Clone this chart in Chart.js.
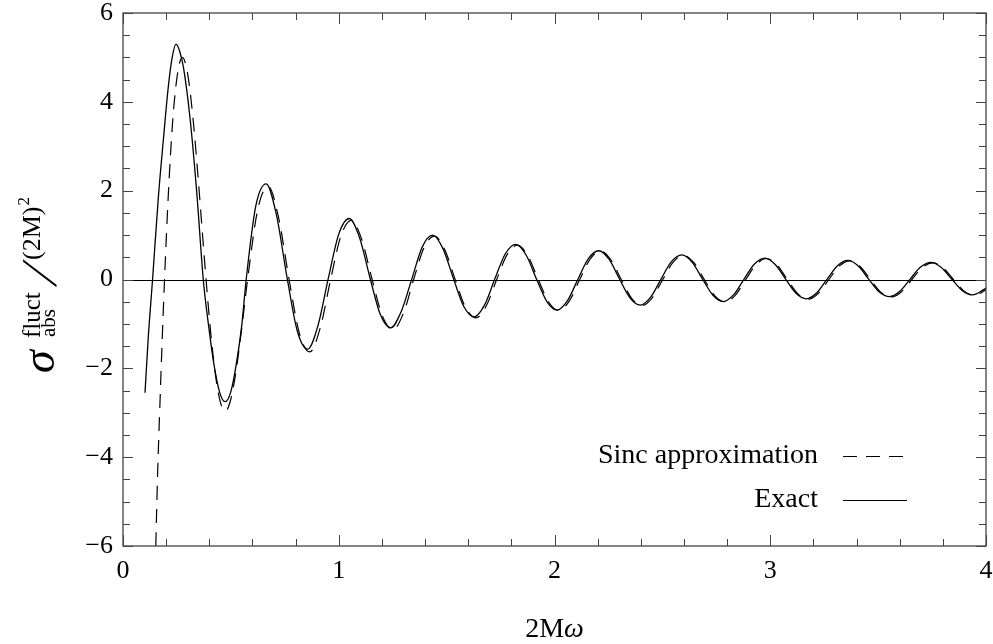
<!DOCTYPE html>
<html><head><meta charset="utf-8">
<script src="https://cdn.jsdelivr.net/npm/chart.js@4.4.1/dist/chart.umd.min.js"></script>
<style>html,body{margin:0;padding:0;background:#fff;}#wrap{width:993px;height:644px;position:relative;}</style>
</head><body><div id="wrap"><canvas id="c"></canvas></div>
<script>
// ---- data ----
const sincX = [0.152,0.160,0.170,0.180,0.1925,0.210,0.230,0.250,0.275,0.300,0.325,0.350,0.370,0.385,0.405,0.425,0.450,0.475,0.500,0.525,0.550,0.5774,
0.6255,0.6736,0.7217,0.7698,0.8179,0.8660,0.9141,0.9623,1.0104,1.0585,1.1066,1.1547,1.2028,1.2509,1.2991,1.3472,1.3953,1.4434,1.4915,1.5396,1.5877,1.6358,1.6840,1.7321,1.7802,1.8283,1.8764,1.9245,1.9726,2.0207,2.0689,2.1170,2.1651,2.2132,2.2613,2.3094,2.3575,2.4056,2.4538,2.5019,2.5500,2.5981,2.6462,2.6943,2.7424,2.7906,2.8387,2.8868,2.9349,2.9830,3.0311,3.0792,3.1273,3.1755,3.2236,3.2717,3.3198,3.3679,3.4160,3.4641,3.5122,3.5604,3.6085,3.6566,3.7047,3.7528,3.8009,3.8490,3.8971,3.9453,3.9934,4.0];
const sincY = [-6.0,-4.44,-2.97,-1.58,0,1.90,3.55,4.54,5.00,4.62,3.60,2.18,0.92,0,-1.12,-2.02,-2.74,-2.96,-2.69,-2.03,-1.11,0,
1.595,2.094,1.382,0,-1.220,-1.629,-1.091,0,0.987,1.333,0.901,0,-0.829,-1.128,-0.768,0,0.715,0.977,0.669,0,-0.628,-0.862,-0.592,0,0.560,0.772,0.532,0,-0.506,-0.698,-0.482,0,0.461,0.637,0.441,0,-0.423,-0.586,-0.407,0,0.391,0.543,0.377,0,-0.364,-0.506,-0.351,0,0.340,0.473,0.329,0,-0.319,-0.444,-0.309,0,0.300,0.419,0.292,0,-0.284,-0.396,-0.276,0,0.269,0.376,0.262,0,-0.256,-0.358,-0.250,-0.221];

const exactX = [0.102,0.1173,0.137,0.164,0.187,0.210,0.228,0.2457,0.262,0.280,0.311,0.342,0.372,0.397,0.4225,0.448,0.473,0.499,0.524,0.550,0.571,
0.6155,0.6636,0.7117,0.7598,0.8079,0.8560,0.9041,0.9523,1.0004,1.0485,1.0966,1.1447,1.1928,1.2409,1.2891,1.3392,1.3873,1.4354,1.4835,1.5316,1.5797,1.6278,1.6760,1.7241,1.7722,1.8203,1.8684,1.9165,1.9646,2.0127,2.0609,2.1090,2.1571,2.2052,2.2533,2.3014,2.3495,2.3976,2.4458,2.4939,2.5420,2.5901,2.6382,2.6863,2.7344,2.7826,2.8307,2.8788,2.9269,2.9750,3.0231,3.0712,3.1193,3.1675,3.2156,3.2637,3.3118,3.3599,3.4080,3.4561,3.5042,3.5524,3.6005,3.6486,3.6967,3.7448,3.7929,3.8410,3.8891,3.9373,3.9854,4.0];
const exactY = [-2.55,-1.29,0,1.86,3.14,4.34,5.0,5.30,5.15,4.78,3.62,1.95,0,-1.05,-1.94,-2.54,-2.75,-2.54,-1.94,-1.05,0,
1.655,2.154,1.442,0.06,-1.160,-1.569,-1.031,0.04,1.027,1.373,0.941,0.04,-0.789,-1.088,-0.728,0.02,0.735,0.997,0.689,0.02,-0.608,-0.842,-0.572,0.02,0.580,0.792,0.552,0.01,-0.496,-0.688,-0.472,0.01,0.471,0.647,0.451,0.01,-0.413,-0.576,-0.397,0.01,0.401,0.553,0.387,0.01,-0.354,-0.496,-0.341,0.01,0.350,0.483,0.339,0.01,-0.309,-0.434,-0.299,0.01,0.310,0.429,0.302,0.01,-0.274,-0.386,-0.266,0.01,0.279,0.386,0.272,0.01,-0.246,-0.348,-0.240,-0.19];

const xTickValues = [0,1,2,3,4];
const xTickLabels = ['0','1','2','3','4'];
const yTickValues = [-6,-4,-2,0,2,4,6];
const yTickLabels = ['\u22126','\u22124','\u22122','0','2','4','6'];
const legendLabels = ['Sinc approximation','Exact'];
const xTitle = ['2M','\u03C9'];
const yTitle = {main:'\u03C3', sup:'fluct', sub:'abs', slash:'/', den:'(2M)', denSup:'2'};

const SERIF = "'Liberation Serif','Times New Roman',Times,serif";

const decor = {
  id:'decor',
  beforeDatasetsDraw(chart){
    const {ctx, chartArea:a, scales:{y}} = chart;
    const py = Math.round(y.getPixelForValue(0))+0.5;
    ctx.save();
    ctx.strokeStyle='#000'; ctx.lineWidth=1.1;
    ctx.beginPath(); ctx.moveTo(a.left,py); ctx.lineTo(a.right,py); ctx.stroke();
    ctx.restore();
  },
  afterDatasetsDraw(chart){
    const {ctx, chartArea:a, scales:{x,y}} = chart;
    ctx.save();
    ctx.strokeStyle='#444'; ctx.lineWidth=1.3;
    ctx.strokeRect(a.left, a.top, a.right-a.left, a.bottom-a.top);
    ctx.lineWidth=1;
    ctx.beginPath();
    for(let i=0;i<=20;i++){
      const v=i*0.2, px=Math.round(x.getPixelForValue(v))+0.5;
      const L = (i%5===0)?11:7;
      ctx.moveTo(px,a.bottom); ctx.lineTo(px,a.bottom-L);
      ctx.moveTo(px,a.top); ctx.lineTo(px,a.top+L);
    }
    for(let i=0;i<=24;i++){
      const v=-6+i*0.5, py=Math.round(y.getPixelForValue(v))+0.5;
      const L = (i%4===0)?10:7;
      ctx.moveTo(a.left,py); ctx.lineTo(a.left+L,py);
      ctx.moveTo(a.right,py); ctx.lineTo(a.right-L,py);
    }
    ctx.stroke();
    ctx.restore();
  },
  afterDraw(chart){
    const {ctx, chartArea:a} = chart;
    ctx.save();
    ctx.fillStyle='#000';
    // legend
    ctx.font = '28px '+SERIF;
    ctx.textAlign='right'; ctx.textBaseline='alphabetic';
    ctx.fillText(legendLabels[0], 818, 463);
    ctx.fillText(legendLabels[1], 818, 507);
    ctx.strokeStyle='#000'; ctx.lineWidth=1.2;
    ctx.setLineDash([14,9]);
    ctx.beginPath(); ctx.moveTo(843,456.5); ctx.lineTo(908,456.5); ctx.stroke();
    ctx.setLineDash([]);
    ctx.beginPath(); ctx.moveTo(843,500.5); ctx.lineTo(907,500.5); ctx.stroke();
    // x title
    ctx.textAlign='left';
    ctx.font='28px '+SERIF;
    const w1 = ctx.measureText(xTitle[0]).width;
    ctx.font='italic 28px '+SERIF;
    const w2 = ctx.measureText(xTitle[1]).width;
    const cx=(a.left+a.right)/2, x0=cx-(w1+w2)/2;
    ctx.font='28px '+SERIF; ctx.fillText(xTitle[0], x0, 637);
    ctx.font='italic 28px '+SERIF; ctx.fillText(xTitle[1], x0+w1, 637);
    // y title (rotated)
    ctx.translate(54, 373);
    ctx.rotate(-Math.PI/2);
    ctx.font='italic 46px '+SERIF; ctx.fillText(yTitle.main, 0, 0);
    ctx.font='25px '+SERIF; ctx.fillText(yTitle.sup, 35, -14);
    ctx.font='21px '+SERIF; ctx.fillText(yTitle.sub, 36, 1);
    ctx.save();
    ctx.translate(86, 2);
    ctx.transform(1,0,-0.42,1,0,0);
    ctx.font='50px '+SERIF; ctx.fillText(yTitle.slash, 0, 0);
    ctx.restore();
    ctx.font='26px '+SERIF; ctx.fillText(yTitle.den, 113, -14);
    const wd = ctx.measureText(yTitle.den).width;
    ctx.font='17px '+SERIF; ctx.fillText(yTitle.denSup, 113+wd+1, -25);
    ctx.restore();
  }
};

new Chart(document.getElementById('c'), {
  type:'line',
  data:{datasets:[
    {label:legendLabels[0], data:sincX.map((x,i)=>({x:x,y:sincY[i]})), borderColor:'#000', borderWidth:1.2, borderDash:[14,9], pointRadius:0, fill:false, cubicInterpolationMode:'monotone'},
    {label:legendLabels[1], data:exactX.map((x,i)=>({x:x,y:exactY[i]})), borderColor:'#000', borderWidth:1.3, pointRadius:0, fill:false, cubicInterpolationMode:'monotone'}
  ]},
  options:{
    responsive:true, maintainAspectRatio:false, animation:false,
    layout:{padding:{left:0,right:7,top:13,bottom:0}},
    plugins:{legend:{display:false}, tooltip:{enabled:false}, title:{display:false}},
    scales:{
      x:{type:'linear', min:0, max:4,
         grid:{display:false, drawTicks:false}, border:{display:false},
         afterBuildTicks:s=>{ s.ticks = xTickValues.map(v=>({value:v})); },
         afterFit:s=>{ s.height = 98; s.paddingLeft = 0; s.paddingRight = 0; s.paddingTop = 0; s.paddingBottom = 0; },
         ticks:{autoSkip:false, maxRotation:0, padding:10, color:'#000', font:{family:SERIF, size:26},
                callback:(v,i)=>xTickLabels[i]}},
      y:{type:'linear', min:-6, max:6,
         grid:{display:false, drawTicks:false}, border:{display:false},
         afterBuildTicks:s=>{ s.ticks = yTickValues.map(v=>({value:v})); },
         afterFit:s=>{ s.width = 123; s.paddingLeft = 0; s.paddingRight = 0; s.paddingTop = 0; s.paddingBottom = 0; },
         ticks:{autoSkip:false, padding:10, color:'#000', font:{family:SERIF, size:26, lineHeight:1},
                callback:(v,i)=>yTickLabels[i]}}
    }
  },
  plugins:[decor]
});
</script></body></html>
